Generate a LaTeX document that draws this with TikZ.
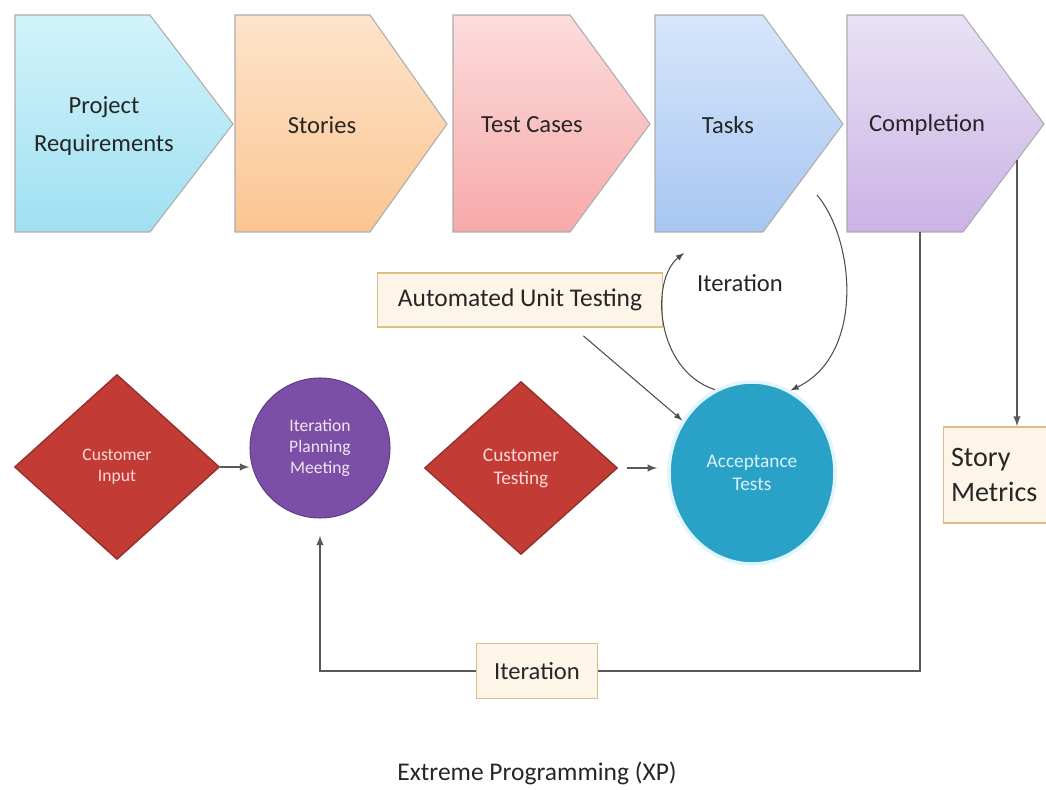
\documentclass[tikz,border=0pt]{standalone}
\usepackage{fontspec}
\setmainfont{Carlito}
\usepackage{xcolor}
\usetikzlibrary{arrows,arrows.meta,calc,shapes.geometric}
\tikzset{>=latex}

\definecolor{reqtop}{HTML}{D2F3FB}
\definecolor{reqbot}{HTML}{9FE0F1}
\definecolor{stotop}{HTML}{FDE4CC}
\definecolor{stobot}{HTML}{FBC591}
\definecolor{castop}{HTML}{FCDCDC}
\definecolor{casbot}{HTML}{F7A9A9}
\definecolor{tsktop}{HTML}{D6E6FB}
\definecolor{tskbot}{HTML}{A8C6F1}
\definecolor{comtop}{HTML}{E8E2F5}
\definecolor{combot}{HTML}{CBB3E5}
\definecolor{custred}{HTML}{C23B35}
\definecolor{custedge}{HTML}{96302C}
\definecolor{meetpurple}{HTML}{7B4FA6}
\definecolor{acctea}{HTML}{2AA1C6}
\definecolor{notefill}{HTML}{FDF6E8}
\definecolor{noteedge}{HTML}{E0BD85}

\tikzset{
	chevron/.style={draw=gray!65, line width=0.6pt},
	chevlabel/.style={font=\fontsize{14}{22}\selectfont, align=center, text=black!85},
	custdiamond/.style={diamond, fill=custred, draw=custedge, line width=0.8pt, inner sep=0pt,
			text=red!15, align=center},
	notebox/.style={rectangle, fill=notefill, draw=noteedge, line width=1pt, inner sep=0pt,
			text=black!85},
	flow/.style={draw=black!65, line width=0.9pt},
	loopline/.style={draw=black!70, line width=0.6pt}
}

\begin{document}
\begin{tikzpicture}[x=0.02cm, y=-0.02cm]
	\useasboundingbox (0,0) rectangle (1046,790);

	% Process chevrons
	\draw [chevron, top color=reqtop, bottom color=reqbot] (15,15) -- (150,15) -- (233,124) -- (150,232) -- (15,232) -- cycle;
	\draw [chevron, top color=stotop, bottom color=stobot] (235,15) -- (370,15) -- (447,124) -- (370,232) -- (235,232) -- cycle;
	\draw [chevron, top color=castop, bottom color=casbot] (453,15) -- (570,15) -- (650,124) -- (570,232) -- (453,232) -- cycle;
	\draw [chevron, top color=tsktop, bottom color=tskbot] (655,15) -- (763,15) -- (843,124) -- (763,232) -- (655,232) -- cycle;
	\draw [chevron, top color=comtop, bottom color=combot] (847,15) -- (963,15) -- (1044,124) -- (963,232) -- (847,232) -- cycle;

	\node [chevlabel] (req) at (104,126) {Project\\Requirements};
	\node [chevlabel] (sto) at (322,125) {Stories};
	\node [chevlabel] (cas) at (532,125) {Test Cases};
	\node [chevlabel] (tsk) at (728,125) {Tasks};
	\node [chevlabel] (com) at (927,125) {Completion};

	% Points on the chevrons
	\coordinate (tskin) at (684,253);
	\coordinate (tskout) at (817,195);
	\coordinate (comside) at (1017,160);
	\coordinate (comfoot) at (920,232);

	% Lower row
	\node [custdiamond, minimum width=4.1cm, minimum height=3.7cm, font=\fontsize{10}{12}\selectfont]
		(cin) at (117,467) {Customer\\Input};
	\node [circle, fill=meetpurple, draw=meetpurple!80!black, line width=0.6pt, minimum size=2.8cm,
		inner sep=0pt, align=center, text=violet!10, font=\fontsize{10}{12}\selectfont]
		(ipm) at (320,448) {Iteration\\Planning\\Meeting};
	\node [custdiamond, minimum width=3.86cm, minimum height=3.46cm, font=\fontsize{11}{13}\selectfont]
		(cte) at (521,468) {Customer\\Testing};
	\node [ellipse, fill=acctea, draw=cyan!12, line width=2pt, minimum width=3.32cm, minimum height=3.64cm,
		inner sep=0pt, align=center, text=cyan!15, font=\fontsize{11}{13}\selectfont]
		(acc) at (752,473) {Acceptance\\Tests};

	% Notes
	\node [notebox, minimum width=5.7cm, minimum height=1.08cm, font=\fontsize{14.5}{17}\selectfont]
		(aut) at (520,300) {Automated Unit Testing};
	\node [font=\fontsize{14}{17}\selectfont, text=black!85] (itl) at (740,283) {Iteration};
	\node [notebox, minimum width=2.42cm, minimum height=1.1cm, font=\fontsize{14}{17}\selectfont]
		(itb) at (537,671) {Iteration};
	\node [notebox, minimum width=2.06cm, minimum height=1.92cm, inner xsep=0.15cm, text width=1.76cm,
		align=left, font=\fontsize{16}{20}\selectfont]
		(stm) at (995,475) {Story\\Metrics};

	% Connectors
	\draw [flow, ->] (cin.east) -- (cin.east -| ipm.west);
	\draw [flow, ->, shorten <=0.18cm, shorten >=0.2cm] (cte.east) -- (cte.east -| acc.west);
	\draw [loopline, ->] ([xshift=-1.6cm, yshift=-0.16cm]aut.south east) -- (acc.143);
	\draw [loopline, ->] (acc.114) .. controls (655,370) and (650,280) .. (tskin);
	\draw [loopline, ->] (tskout) .. controls (855,240) and (865,355) .. (acc.65);
	\draw [flow, ->] (comside) -- (comside |- stm.north);

	% Iteration feedback
	\draw [flow] (comfoot) |- (itb.east);
	\draw [flow, ->, shorten >=0.34cm] (itb.west) -| (ipm.south);

	% Caption
	\node [font=\fontsize{14.5}{17}\selectfont, text=black!85] (cap) at (537,773) {Extreme Programming (XP)};
\end{tikzpicture}
\end{document}
